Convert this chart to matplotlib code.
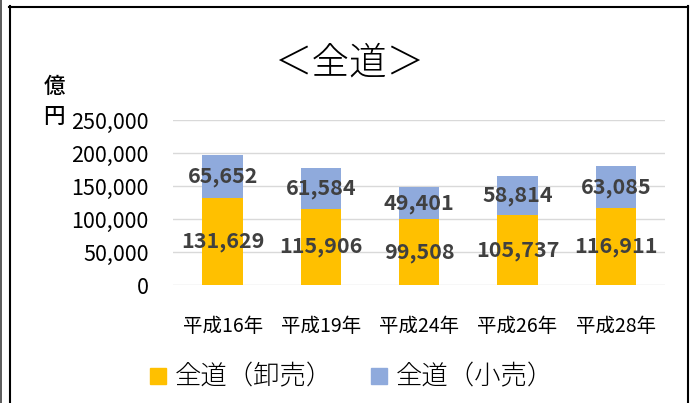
import matplotlib
matplotlib.use("Agg")
import matplotlib.pyplot as plt
from matplotlib.lines import Line2D
from matplotlib.patches import Rectangle

plt.rcParams['font.family'] = ['Noto Sans CJK JP', 'DejaVu Sans']

# data
categories = ['平成16年', '平成19年', '平成24年', '平成26年', '平成28年']
wholesale = [131629, 115906, 99508, 105737, 116911]
retail = [65652, 61584, 49401, 58814, 63085]
series_names = ['全道（卸売）', '全道（小売）']
yticks = [0, 50000, 100000, 150000, 200000, 250000]

W, H = 692, 403
fig = plt.figure(figsize=(W / 100, H / 100), dpi=100)
ax = fig.add_axes([173.5 / W, 1 - 285 / H, (665 - 173.5) / W, 165 / H])

x = range(len(categories))
c_whole = '#FFC000'
c_retail = '#8FAADC'
ax.bar(x, wholesale, width=0.41, color=c_whole, zorder=3)
ax.bar(x, retail, width=0.41, bottom=wholesale, color=c_retail, zorder=3)

for i in x:
    ax.text(i, wholesale[i] / 2, f'{wholesale[i]:,}', ha='center', va='center',
            fontsize=15.5, fontweight='bold', color='#404040', zorder=4)
    ax.text(i, wholesale[i] + retail[i] / 2, f'{retail[i]:,}', ha='center', va='center',
            fontsize=15.5, fontweight='bold', color='#404040', zorder=4)

ax.set_ylim(0, 250000)
ax.set_xlim(-0.5, len(categories) - 0.5)
ax.set_yticks(yticks)
ax.set_yticklabels([f'{v:,}' for v in yticks], fontsize=15.5)
ax.set_xticks(list(x))
ax.set_xticklabels(categories, fontsize=14)
ax.tick_params(length=0)
ax.tick_params(axis='y', pad=18)
ax.tick_params(axis='x', pad=22)
ax.grid(axis='y', color='#D9D9D9', linewidth=1, zorder=0)
for s in ax.spines.values():
    s.set_visible(False)

fig.text(350 / W, 1 - 63 / H, '＜全道＞', ha='center', va='center', fontsize=27, fontweight='light')
fig.text(54 / W, 1 - 87 / H, '億', ha='center', va='center', fontsize=15.5, fontweight='medium')
fig.text(54 / W, 1 - 117 / H, '円', ha='center', va='center', fontsize=15.5, fontweight='medium')

# legend drawn manually
fig.patches.append(Rectangle((150 / W, 1 - 384 / H), 16 / W, 16 / H, color=c_whole, transform=fig.transFigure))
fig.text(175 / W, 1 - 376 / H, series_names[0], ha='left', va='center', fontsize=19, fontweight='light')
fig.patches.append(Rectangle((371 / W, 1 - 384 / H), 16 / W, 16 / H, color=c_retail, transform=fig.transFigure))
fig.text(396 / W, 1 - 376 / H, series_names[1], ha='left', va='center', fontsize=19, fontweight='light')

# frame lines
def fl(xs, ys, c, lw):
    fig.add_artist(Line2D([v / W for v in xs], [1 - v / H for v in ys], color=c, linewidth=lw, transform=fig.transFigure))

fl([1.5, 1.5], [0, H], '#404040', 1.2)
fl([9.5, 9.5], [6, H], '#000000', 1.5)
fl([9, 687.5], [6.5, 6.5], '#000000', 1.5)
fl([687.5, 687.5], [6, H], '#000000', 1.5)

fig.savefig('out.png', dpi=100)
